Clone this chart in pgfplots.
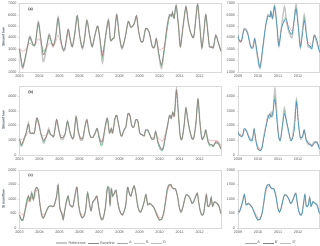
\documentclass[border=0pt]{standalone}
\usepackage{pgfplots}
\pgfplotsset{compat=1.18}
\usepackage{pgfplotstable}
\usepackage{fontspec}
\setmainfont{Liberation Sans}
\definecolor{refc}{HTML}{C8C8C8}
\definecolor{basec}{HTML}{97867C}
\definecolor{ac}{HTML}{6CC79A}
\definecolor{bc}{HTML}{A3D0EE}
\definecolor{dc}{HTML}{F2A7A7}
\definecolor{bpc}{HTML}{4794C6}
\definecolor{axc}{HTML}{D9D9D9}
\definecolor{tickc}{HTML}{595959}
\definecolor{labc}{HTML}{44546A}

\pgfplotstableread{
m ref base A B D
0.0 3000 3000 3000 3000 3100
1.0 1900 2000 2100 2000 2900
2.0 1300 1400 1500 1500 2800
3.9 2500 2600 2700 2600 3000
5.9 4100 4000 3900 4000 3500
7.2 3700 3700 3600 3700 3400
8.2 3300 3300 3300 3300 3300
9.4 3500 3500 3600 3500 3400
11.1 5400 5300 5100 5300 3900
12.5 3800 4000 4000 4000 3600
14.0 1900 2500 2800 2600 2900
15.6 2800 3000 3100 3000 3000
17.4 4300 4200 4000 4200 3500
18.5 3800 3800 3700 3800 3500
19.9 3200 3300 3300 3300 3200
21.3 4000 4000 4000 4000 3600
22.8 5800 5700 5400 5700 4200
24.2 4000 4000 4000 4000 3600
25.4 3000 3100 3100 3100 3100
26.7 2900 3000 3000 3000 3000
28.7 4700 4700 4600 4700 4300
30.0 3800 3800 3800 3800 3700
31.2 3200 3200 3200 3200 3200
32.6 4300 4300 4300 4300 4200
34.1 5900 5900 5900 5900 5800
35.5 4200 4200 4200 4200 4200
37.1 3000 3100 3100 3100 3200
38.4 3900 3900 3900 3900 3900
39.8 5500 5500 5500 5500 5400
41.4 4200 4200 4200 4200 4200
42.9 3200 3200 3200 3200 3200
44.7 4300 4300 4300 4300 4300
46.2 5000 5000 5000 5000 5000
47.6 3700 3800 3800 3800 3800
49.0 1800 2400 2200 2400 2700
50.7 3900 4000 4000 4000 4000
52.5 5600 5500 5400 5500 5200
53.7 3800 3800 3800 3800 3800
55.0 3900 3900 3900 3900 3900
56.0 4100 4100 4100 4100 4100
57.4 6000 6000 6000 6000 5900
58.9 4200 4200 4200 4200 4200
60.5 3000 3100 3100 3100 3200
62.4 4000 4000 4000 4000 4000
64.2 5400 5400 5400 5400 5300
65.8 4900 4900 4900 4900 4900
67.7 5200 5200 5200 5200 5200
69.1 5900 5900 5900 5900 5800
70.2 4700 4700 4700 4700 4700
71.6 3700 3700 3700 3700 3700
73.0 3700 3700 3700 3700 3700
74.5 4800 4800 4800 4800 4700
76.5 4500 4500 4500 4500 4500
78.4 3200 3200 3200 3200 3200
79.8 3200 3200 3200 3200 3300
80.8 3900 3900 3900 3900 3800
82.3 2400 2600 2500 2600 3000
83.9 1300 1600 1500 1700 3000
85.7 3200 3300 3000 3300 3300
87.2 5000 5000 4600 5000 4800
88.6 6000 6000 5800 6000 5900
89.8 5900 5900 5900 5900 5900
90.3 6200 6200 6200 6200 6100
91.3 5700 5700 5700 5700 5700
92.5 6800 6800 6800 6800 6700
93.9 5000 5000 5000 5000 5000
95.0 3200 3200 3200 3200 3300
96.6 5000 5000 5000 5000 5000
98.3 6700 6700 6700 6700 6600
99.5 5500 5500 5500 5500 5500
100.9 4500 4500 4500 4500 4500
102.8 4000 4000 4000 4000 4100
104.0 5500 5500 5500 5500 5500
105.2 6900 6900 6900 6900 6800
106.5 5000 5000 5000 5000 5000
107.7 3100 3100 3100 3100 3200
108.9 4500 4500 4500 4500 4500
110.0 6000 6000 6000 6000 5900
111.2 4500 4500 4500 4500 4500
112.2 3200 3200 3200 3200 3300
113.6 3200 3200 3200 3200 3200
114.5 3100 3100 3100 3100 3200
115.9 4200 4200 4200 4200 4100
117.5 3500 3500 3500 3500 3500
119.0 2800 2800 2800 2800 2900
}\tabA

\pgfplotstableread{
m ref Ap Bp Dp
69.1 5900 5900 5900 5800
70.2 4700 4700 4700 4700
71.6 3700 3800 3800 3800
73.0 3700 3700 3700 3800
74.5 4800 4700 4700 4700
76.5 4500 4400 4400 4500
78.4 3200 3200 3200 3300
79.8 3200 3100 3100 3200
80.8 3900 3900 3900 3800
82.3 2400 2600 2600 2700
83.9 1300 1400 1400 1600
85.7 3200 3300 3300 3400
87.2 5000 5000 5000 4900
88.6 6000 5900 5900 5800
89.8 5900 5800 5800 5800
90.3 6200 6300 6300 6100
91.3 5700 5700 5700 5600
92.5 6800 6800 6700 6600
93.9 5000 5000 5000 5100
95.0 3200 3300 3300 3500
96.6 5000 4800 4800 4900
98.3 6700 5700 5500 5400
99.5 5500 5600 5600 5300
100.9 4500 4700 4700 5000
102.8 4000 4300 4300 4600
104.0 5500 5500 5500 5400
105.2 6900 6700 6500 6300
106.5 5000 4900 4900 5000
107.7 3100 3200 3200 3300
108.9 4500 4300 4300 4500
110.0 6000 5800 5500 5600
111.2 4500 4300 4300 4400
112.2 3200 3400 3400 3600
113.6 3200 3200 3200 3500
114.5 3100 3000 3000 3200
115.9 4200 4200 4200 4100
117.5 3500 3700 3700 3700
119.0 2800 2700 2700 2800
}\tabAr

\pgfplotstableread{
m ref base A B D
0.0 1100 1100 1100 1100 1100
1.0 600 700 650 700 1050
2.0 800 900 850 900 1100
3.9 1500 1500 1500 1500 1300
5.3 2200 2100 2100 2100 1600
6.2 1500 1500 1500 1500 1500
7.6 1500 1500 1500 1500 1500
8.8 1500 1500 1500 1500 1500
10.1 2500 2500 2500 2500 2300
11.3 2200 2200 2200 2200 2100
12.5 1500 1500 1500 1500 1500
13.7 1000 1100 1100 1100 1300
14.4 800 1000 900 1000 1300
16.0 1300 1300 1300 1300 1400
17.2 1800 1700 1600 1700 1500
18.3 1400 1400 1400 1400 1400
19.5 1300 1300 1300 1300 1300
20.3 1300 1300 1300 1300 1300
21.9 2400 2400 2400 2400 2200
23.2 1700 1700 1700 1700 1700
24.4 1100 1200 1200 1200 1300
25.8 1100 1200 1200 1200 1300
27.1 1500 1500 1500 1500 1500
28.3 2300 2300 2300 2300 2200
29.7 1600 1600 1600 1600 1600
30.8 1200 1200 1200 1200 1200
32.0 1200 1200 1200 1200 1200
33.4 2600 2600 2600 2600 2500
34.7 1600 1600 1600 1600 1600
36.1 1000 1100 1100 1100 1200
37.5 1100 1200 1200 1200 1200
38.6 1900 1900 1900 1900 1900
39.8 2400 2400 2400 2400 2300
41.0 1600 1600 1600 1600 1600
42.1 1200 1200 1200 1200 1200
43.3 1200 1200 1200 1200 1200
44.7 1500 1500 1500 1500 1500
45.9 1800 1800 1800 1800 1700
47.2 1100 1100 1000 1100 1200
48.2 700 900 600 900 1000
49.2 900 1000 800 1000 1100
50.7 2000 2000 1900 2000 1900
51.9 2500 2500 2500 2500 2400
53.1 1500 1500 1500 1500 1500
54.2 1800 1800 1800 1800 1800
55.0 1500 1500 1500 1500 1500
56.4 2500 2500 2500 2500 2400
57.4 2700 2700 2700 2700 2700
58.5 2100 2100 2100 2100 2100
59.7 1400 1400 1400 1400 1400
60.5 1300 1300 1300 1300 1300
61.7 1700 1700 1700 1700 1700
62.8 1900 1900 1900 1900 1900
64.0 2800 2800 2800 2800 2700
65.2 2700 2700 2700 2700 2700
66.3 2000 2000 2000 2000 2000
67.5 1900 1900 1900 1900 1900
68.7 2400 2400 2400 2400 2400
69.9 2300 2300 2300 2300 2300
71.0 1500 1500 1500 1500 1500
72.2 1400 1400 1400 1400 1400
73.6 1300 1300 1300 1300 1300
74.5 1700 1700 1700 1700 1700
75.7 1700 1700 1700 1700 1700
76.9 1400 1400 1400 1400 1400
78.0 1100 1100 1100 1100 1200
79.4 1100 1100 1100 1100 1200
80.4 1600 1600 1600 1600 1500
81.6 900 1000 900 1000 1200
82.5 600 700 500 700 1100
83.7 350 400 300 450 1000
84.9 450 500 400 550 1000
86.2 1300 1300 1200 1300 1500
87.4 2000 2000 1900 2000 2000
88.6 2700 2700 2700 2700 2600
89.6 2500 2500 2500 2500 2500
90.5 2900 2900 2900 2900 2800
91.5 2700 2700 2700 2700 2700
92.7 4500 4400 4400 4400 4300
94.0 2500 2500 2500 2500 2500
95.0 1200 1200 1200 1200 1300
96.0 1100 1100 1100 1100 1200
97.2 2000 2000 2000 2000 2000
98.3 3200 3200 3200 3200 3100
99.5 2300 2300 2300 2300 2300
100.7 1600 1600 1600 1600 1600
101.9 1100 1100 1100 1100 1200
103.0 1200 1200 1200 1200 1200
104.2 2200 2200 2200 2200 2100
105.4 3800 3800 3800 3800 3700
106.5 2300 2300 2300 2300 2300
107.7 1100 1100 1100 1100 1200
109.1 1300 1300 1300 1300 1300
110.0 1700 1700 1700 1700 1600
111.2 1000 1000 900 1000 1100
112.4 700 700 600 700 1000
113.6 700 700 600 700 1000
114.5 600 600 600 600 950
115.9 900 900 800 900 1000
117.5 800 800 750 800 950
119.0 400 400 400 400 600
}\tabB

\pgfplotstableread{
m ref Ap Bp Dp
69.9 2300 2200 2200 2200
71.0 1500 1500 1500 1500
72.2 1400 1300 1300 1400
73.6 1300 1300 1300 1300
74.5 1700 1800 1800 1700
75.7 1700 1700 1700 1700
76.9 1400 1300 1300 1400
78.0 1100 1000 1000 1100
79.4 1100 1000 1000 1100
80.4 1600 1800 1800 1600
81.6 900 900 900 1000
82.5 600 400 400 600
83.7 350 300 300 400
84.9 450 400 400 500
86.2 1300 1200 1200 1300
87.4 2000 1900 1900 2000
88.6 2700 2500 2500 2600
89.6 2500 2800 2800 2600
90.5 2900 2600 2600 2800
91.5 2700 2900 2900 2800
92.7 4500 4000 3800 4100
94.0 2500 2300 2200 2400
95.0 1200 1200 1200 1200
96.0 1100 1000 1000 1100
97.2 2000 2100 2100 2000
98.3 3200 3000 2800 3000
99.5 2300 2300 2300 2300
100.7 1600 1700 1700 1600
101.9 1100 1000 1000 1100
103.0 1200 1100 1100 1200
104.2 2200 1800 1800 2000
105.4 3800 3700 3600 3600
106.5 2300 2200 2200 2300
107.7 1100 1200 1200 1200
109.1 1300 1300 1300 1300
110.0 1700 1700 1700 1600
111.2 1000 1000 1000 1100
112.4 700 800 800 900
113.6 700 700 700 800
114.5 600 600 600 700
115.9 900 800 800 900
117.5 800 900 900 900
119.0 400 400 400 500
}\tabBr

\pgfplotstableread{
m ref base A B D
0.0 450 450 400 450 550
1.0 300 300 280 300 500
2.0 270 280 270 280 450
3.3 600 600 650 600 600
4.3 900 900 1000 900 800
5.3 1100 1100 1050 1100 950
6.2 950 950 900 950 900
7.2 1200 1200 1250 1200 1050
8.2 1000 1000 950 1000 950
9.2 1300 1300 1250 1300 1100
10.1 1400 1400 1400 1400 1300
11.1 1300 1300 1300 1300 1250
12.1 800 800 800 800 850
13.1 450 450 450 450 550
14.0 330 350 350 350 450
15.0 450 450 450 450 500
16.0 600 600 600 600 600
17.4 750 750 750 750 750
18.9 760 760 760 760 760
20.3 750 750 750 750 750
21.9 1100 1100 1100 1100 1050
22.8 1480 1480 1450 1480 1400
23.8 700 700 700 700 750
25.0 500 500 480 500 550
25.8 290 300 300 300 400
26.7 600 600 600 600 600
27.7 900 900 950 900 850
28.7 1100 1100 1050 1100 1050
29.7 800 800 800 800 800
30.6 750 750 750 750 750
31.6 750 750 750 750 750
33.0 1200 1200 1200 1200 1150
34.0 1400 1400 1400 1400 1350
34.9 800 800 800 800 800
36.1 450 450 450 450 500
37.1 350 350 350 350 450
38.0 400 400 400 400 450
39.0 600 600 600 600 600
40.2 1200 1200 1250 1200 1150
41.4 800 800 800 800 800
42.3 600 600 600 600 600
43.3 900 900 900 900 900
44.7 1000 1000 1000 1000 1000
45.7 1100 1100 1100 1100 1050
46.8 700 700 700 700 700
48.0 350 350 350 350 400
49.2 290 300 300 300 350
50.7 700 700 700 700 700
51.7 1300 1300 1350 1300 1250
52.7 1400 1400 1400 1400 1350
53.5 800 800 800 800 850
54.2 1350 1350 1350 1350 1300
55.0 1100 1100 1100 1100 1100
56.0 1200 1200 1200 1200 1200
57.0 1300 1300 1300 1300 1250
58.0 900 900 900 900 900
58.9 650 650 650 650 650
59.9 500 500 500 500 500
60.9 450 450 450 450 500
61.9 600 600 600 600 600
62.8 800 800 850 800 800
63.8 1400 1400 1400 1400 1350
64.8 1200 1200 1200 1200 1200
65.8 1100 1100 1100 1100 1100
66.7 1300 1300 1300 1300 1300
67.7 1450 1450 1450 1450 1400
68.7 1200 1200 1200 1200 1200
69.7 800 800 800 800 800
70.6 600 600 600 600 600
71.6 550 550 550 550 550
72.6 700 700 700 700 700
73.6 900 900 900 900 900
74.7 1150 1150 1150 1150 1100
75.7 800 800 800 800 800
76.9 850 850 850 850 850
78.0 800 800 800 800 800
79.4 700 700 700 700 700
80.4 550 550 550 550 600
81.8 350 350 350 350 450
82.7 270 280 270 280 350
83.9 300 300 300 300 350
85.1 500 500 500 500 500
86.2 900 900 950 900 850
87.2 1300 1300 1350 1300 1200
88.2 1480 1480 1480 1480 1400
89.4 1500 1500 1500 1500 1450
90.1 1400 1400 1400 1400 1400
91.1 1350 1350 1350 1350 1350
92.1 1350 1350 1350 1350 1350
93.3 1100 1100 1100 1100 1100
94.4 700 700 700 700 700
95.4 550 550 550 550 550
96.4 700 700 700 700 700
97.6 1000 1000 1000 1000 1000
98.5 1150 1150 1150 1150 1150
99.9 1100 1100 1100 1100 1100
100.9 1000 1000 1000 1000 1000
101.9 850 850 850 850 850
102.8 900 900 900 900 900
103.8 1050 1050 1050 1050 1050
105.0 1200 1200 1200 1200 1200
105.8 900 900 900 900 900
106.7 600 600 600 600 600
107.7 450 450 450 450 450
108.7 500 500 500 500 500
109.7 900 900 900 900 900
110.4 1150 1150 1150 1150 1100
111.2 750 750 750 750 750
112.4 800 800 800 800 800
113.2 1050 1050 1050 1050 1000
114.0 750 750 750 750 750
115.1 900 900 900 900 900
116.5 850 850 850 850 850
117.5 800 800 800 800 800
119.0 500 500 500 500 500
}\tabC

\tikzset{
  refst/.style={refc, line width=2.8pt},
  basest/.style={basec, line width=1.3pt},
  ast/.style={ac, line width=0.9pt},
  bst/.style={bc, line width=0.9pt},
  dst/.style={dc, line width=0.9pt},
  apst/.style={ac, line width=1pt, densely dotted},
  bpst/.style={bpc, line width=1.1pt},
  plab/.style={anchor=north west, font=\fontsize{7.5}{8}\selectfont\bfseries, text=black!80},
}

\pgfplotsset{
  myax/.style={
    scale only axis, anchor=north west,
    axis line style={draw=axc, line width=0.8pt},
    tick align=outside, major tick length=2.5bp,
    tick style={draw=axc, line width=0.6pt},
    xtick pos=bottom, ytick pos=left,
    ticklabel style={font=\fontsize{7.5}{8}\selectfont, text=tickc},
    /pgf/number format/assume math mode=true,
    /pgf/number format/1000 sep={},
    scaled y ticks=false,
    every axis plot/.append style={smooth, mark=none},
    ylabel style={font=\fontsize{7}{8}\selectfont\bfseries, text=labc},
    legend image code/.code={\draw[#1] (0bp,0bp) -- (22bp,0bp);},
  },
  leftax/.style={myax, width=403bp, xmin=0, xmax=119,
    xtick={0,11.82,23.64,35.47,47.29,59.11,70.93,82.76,94.58,106.4},
    xticklabels={2003,2004,2005,2006,2007,2008,2009,2010,2011,2012},
    ylabel={Streamflow}},
  rightax/.style={myax, width=163bp, xmin=70.93, xmax=119,
    xtick={70.93,82.76,94.58,106.4},
    xticklabels={2009,2010,2011,2012}},
}

\begin{document}
\begin{tikzpicture}
\useasboundingbox (0,0) rectangle (640bp,-492bp);

% ---- (a) left
\begin{axis}[leftax, at={(39bp,-6.6bp)}, height=137bp, ymin=1000, ymax=7000, ytick={1000,2000,3000,4000,5000,6000,7000}]
\addplot[refst] table[x=m,y=ref] {\tabA};
\addplot[dst] table[x=m,y=D] {\tabA};
\addplot[bst] table[x=m,y=B] {\tabA};
\addplot[ast] table[x=m,y=A] {\tabA};
\addplot[basest] table[x=m,y=base] {\tabA};
\node[plab] at (rel axis cs:0.035,0.96) {(a)};
\end{axis}
% ---- (a) right
\begin{axis}[rightax, at={(476bp,-6.6bp)}, height=137bp, ymin=1000, ymax=7000, ytick={1000,2000,3000,4000,5000,6000,7000}]
\addplot[refst] table[x=m,y=ref] {\tabAr};
\addplot[dst] table[x=m,y=Dp] {\tabAr};
\addplot[apst] table[x=m,y=Ap] {\tabAr};
\addplot[bpst] table[x=m,y=Bp] {\tabAr};
\end{axis}

% ---- (b) left
\begin{axis}[leftax, at={(39bp,-172bp)}, height=138bp, ymin=0, ymax=4700, ytick={0,1000,2000,3000,4000}]
\addplot[refst] table[x=m,y=ref] {\tabB};
\addplot[dst] table[x=m,y=D] {\tabB};
\addplot[bst] table[x=m,y=B] {\tabB};
\addplot[ast] table[x=m,y=A] {\tabB};
\addplot[basest] table[x=m,y=base] {\tabB};
\node[plab] at (rel axis cs:0.035,0.96) {(b)};
\end{axis}
% ---- (b) right
\begin{axis}[rightax, at={(476bp,-172bp)}, height=138bp, ymin=0, ymax=4700, ytick={0,1000,2000,3000,4000}]
\addplot[refst] table[x=m,y=ref] {\tabBr};
\addplot[dst] table[x=m,y=Dp] {\tabBr};
\addplot[apst] table[x=m,y=Ap] {\tabBr};
\addplot[bpst] table[x=m,y=Bp] {\tabBr};
\end{axis}

% ---- (c) left
\begin{axis}[leftax, at={(39bp,-340bp)}, height=116bp, ymin=0, ymax=2000, ytick={0,500,1000,1500,2000},
  legend style={at={(0.454,-0.26)}, anchor=center, draw=none, fill=none, legend columns=-1,
    font=\fontsize{7.5}{8}\selectfont, text=tickc,
    /tikz/every even column/.append style={column sep=2bp}},
  legend cell align=left]
\addlegendimage{refst}\addlegendentry{Reference\hspace{14bp}}
\addlegendimage{basest}\addlegendentry{Baseline\hspace{14bp}}
\addlegendimage{ast}\addlegendentry{A\hspace{14bp}}
\addlegendimage{bst}\addlegendentry{B\hspace{14bp}}
\addlegendimage{dst}\addlegendentry{D}
\addplot[refst, forget plot] table[x=m,y=ref] {\tabC};
\addplot[dst, forget plot] table[x=m,y=D] {\tabC};
\addplot[bst, forget plot] table[x=m,y=B] {\tabC};
\addplot[ast, forget plot] table[x=m,y=A] {\tabC};
\addplot[basest, forget plot] table[x=m,y=base] {\tabC};
\node[plab] at (rel axis cs:0.035,0.96) {(c)};
\end{axis}
% ---- (c) right
\begin{axis}[rightax, at={(476bp,-340bp)}, height=116bp, ymin=0, ymax=2000, ytick={0,500,1000,1500,2000},
  legend style={at={(0.405,-0.26)}, anchor=center, draw=none, fill=none, legend columns=-1,
    font=\fontsize{7.5}{8}\selectfont, text=tickc,
    /tikz/every even column/.append style={column sep=2bp}},
  legend cell align=left]
\addlegendimage{apst}\addlegendentry{A'\hspace{12bp}}
\addlegendimage{bpst}\addlegendentry{B'\hspace{12bp}}
\addlegendimage{dst}\addlegendentry{D'}
\addplot[refst, forget plot] table[x=m,y=ref] {\tabC};
\addplot[dst, forget plot] table[x=m,y=D] {\tabC};
\addplot[apst, forget plot] table[x=m,y=A] {\tabC};
\addplot[bpst, forget plot] table[x=m,y=B] {\tabC};
\end{axis}
\end{tikzpicture}
\end{document}
